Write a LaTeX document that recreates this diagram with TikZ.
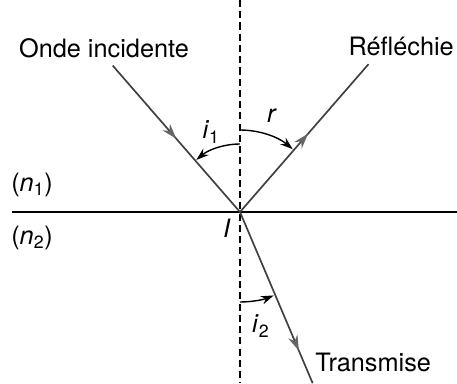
\documentclass[tikz,border=0pt]{standalone}
\usepackage{fontspec}
\setmainfont{TeX Gyre Heros}
\usetikzlibrary{arrows.meta,decorations.markings}
\tikzset{>=Stealth,every node/.style={font=\fontsize{18}{20}\selectfont},
ray/.style={line width=1.2pt,black!75,postaction={decorate},decoration={markings,mark=at position #1 with {\arrow[black!60]{Stealth[length=11pt,width=7pt]}}}},
angarc/.style={line width=1pt,-{Stealth[length=9pt,width=6pt]}},normal/.style={line width=1pt,dash pattern=on 5pt off 3pt}}

\begin{document}
\begin{tikzpicture}
\useasboundingbox (-6,-4.275) rectangle (5.425,5.3);
\coordinate (I) at (0,0);\coordinate (src) at (131:4.85);\coordinate (rfl) at (49:4.9);\coordinate (trm) at (-67:4.65);
\coordinate (ntop) at (0,5.3);\coordinate (nbot) at (0,-4.275);\coordinate (sl) at (-5.7,0);\coordinate (sr) at (5.425,0);
\draw[normal] (ntop)--(nbot);\draw[line width=1pt] (sl)--(sr);
\draw[ray=.5] (src)--(I);\draw[ray=.53] (I)--(rfl);\draw[ray=.81] (I)--(trm);
\draw[angarc] (90:1.7) arc(90:130:1.7);\draw[angarc] (90:2.05) arc(90:50:2.05);\draw[angarc] (-90:2.25) arc(-90:-68:2.25);
\node (incid) at (-3.4,4.1){Onde incidente};\node (refl) at (4.03,4.13){Réfléchie};\node (trans) at (3.33,-3.75){Transmise};
\node (n1) at (-5.2,.68){(\textit{n}\textsubscript{1})};\node (n2) at (-5.2,-.65){(\textit{n}\textsubscript{2})};
\node (lI) at (-.33,-.4){\textit{I}};\node (li1) at (-.72,2.0){\textit{i}\textsubscript{1}};\node (lr) at (.8,2.4){\textit{r}};\node (li2) at (.52,-2.85){\textit{i}\textsubscript{2}};
\end{tikzpicture}
\end{document}
